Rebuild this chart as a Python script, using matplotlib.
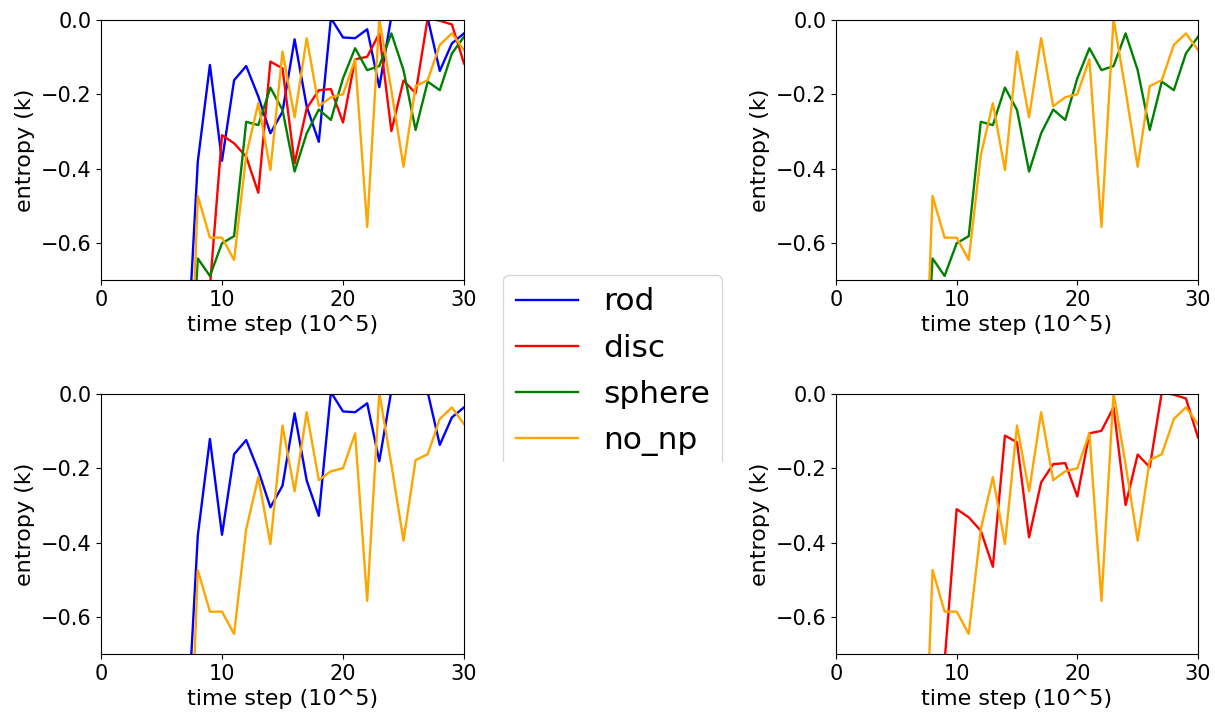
import numpy as np
import matplotlib
matplotlib.use('Agg')
import matplotlib.pyplot as plt
from matplotlib.patches import Rectangle

## time step (10^5)
t = np.arange(7, 31)

rod = [-0.98, -0.381, -0.121, -0.379, -0.162, -0.124, -0.206, -0.305, -0.247, -0.052,
       -0.233, -0.328, 0.005, -0.047, -0.049, -0.025, -0.181, 0.01, 0.05, 0.04,
       0.005, -0.137, -0.063, -0.036]
disc = [-1.5, -1.1, -0.72, -0.310, -0.332, -0.368, -0.465, -0.112, -0.130, -0.386,
        -0.238, -0.189, -0.186, -0.276, -0.106, -0.099, -0.036, -0.299, -0.163, -0.197,
        0.005, -0.002, -0.012, -0.117]
sphere = [-1.22, -0.642, -0.689, -0.601, -0.582, -0.274, -0.283, -0.182, -0.242, -0.408,
          -0.305, -0.241, -0.269, -0.157, -0.076, -0.135, -0.124, -0.036, -0.135, -0.296,
          -0.166, -0.189, -0.090, -0.045]
no_np = [-1.34, -0.474, -0.586, -0.586, -0.646, -0.364, -0.224, -0.404, -0.085, -0.262,
         -0.049, -0.232, -0.208, -0.200, -0.106, -0.557, 0.003, -0.19, -0.395, -0.178,
         -0.162, -0.067, -0.036, -0.081]

W, H = 1215, 715
fig = plt.figure(figsize=(W/100.0, H/100.0), dpi=100)

def make_ax(x0, y0, x1, y1):
    # pixel box -> figure fraction
    return fig.add_axes([x0/W, 1-y1/H, (x1-x0)/W, (y1-y0)/H])

ax_all = make_ax(101, 20, 464, 280)
ax_sph = make_ax(836, 20, 1198, 280)
ax_rod = make_ax(101, 394, 464, 654)
ax_dsc = make_ax(836, 394, 1198, 654)

lw = 1.7
ax_all.plot(t, rod, color='blue', lw=lw, label='rod')
ax_all.plot(t, disc, color='red', lw=lw, label='disc')
ax_all.plot(t, sphere, color='green', lw=lw, label='sphere')
ax_all.plot(t, no_np, color='orange', lw=lw, label='no_np')

ax_sph.plot(t, sphere, color='green', lw=lw)
ax_sph.plot(t, no_np, color='orange', lw=lw)

ax_rod.plot(t, rod, color='blue', lw=lw)
ax_rod.plot(t, no_np, color='orange', lw=lw)

ax_dsc.plot(t, disc, color='red', lw=lw)
ax_dsc.plot(t, no_np, color='orange', lw=lw)

for ax in [ax_all, ax_sph, ax_rod, ax_dsc]:
    ax.set_xlim(0, 30)
    ax.set_ylim(-0.7, 0.0)
    ax.set_xticks([0, 10, 20, 30])
    ax.set_yticks([-0.6, -0.4, -0.2, 0.0])
    ax.tick_params(labelsize=15)
    ax.set_xlabel('time step (10^5)', fontsize=16)
    ax.set_ylabel('entropy (k)', fontsize=16)

handles, labels = ax_all.get_legend_handles_labels()
fig.legend(handles, labels, loc='upper left', bbox_to_anchor=(503/W, 1-275/H),
           borderaxespad=0, fontsize=22.5, labelspacing=0.55)
# bottom of the legend box is hidden
fig.patches.append(Rectangle((495/W, 0.0), 240/W, 1-462/H, transform=fig.transFigure,
                             facecolor='white', edgecolor='none', zorder=10))

plt.savefig('out.png', dpi=100)
